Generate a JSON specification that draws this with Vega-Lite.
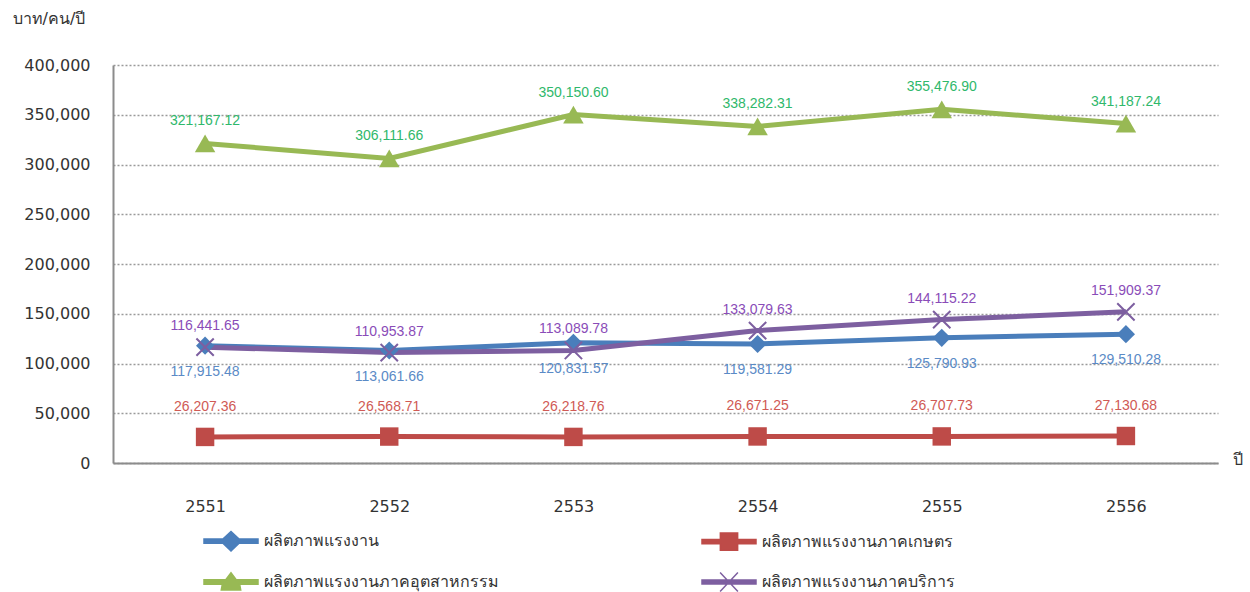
{
  "$schema": "https://vega.github.io/schema/vega-lite/v6.json",
  "width": 1105,
  "height": 398,
  "autosize": {"type": "none"},
  "padding": {"left": 113, "top": 65, "right": 32, "bottom": 129},
  "background": "white",
  "config": {
    "view": {"stroke": null},
    "font": "DejaVu Sans"
  },
  "data": {
    "values": [
      {"year": "2551", "series": "ผลิตภาพแรงงาน", "value": 117915.48},
      {"year": "2552", "series": "ผลิตภาพแรงงาน", "value": 113061.66},
      {"year": "2553", "series": "ผลิตภาพแรงงาน", "value": 120831.57},
      {"year": "2554", "series": "ผลิตภาพแรงงาน", "value": 119581.29},
      {"year": "2555", "series": "ผลิตภาพแรงงาน", "value": 125790.93},
      {"year": "2556", "series": "ผลิตภาพแรงงาน", "value": 129510.28},
      {"year": "2551", "series": "ผลิตภาพแรงงานภาคเกษตร", "value": 26207.36},
      {"year": "2552", "series": "ผลิตภาพแรงงานภาคเกษตร", "value": 26568.71},
      {"year": "2553", "series": "ผลิตภาพแรงงานภาคเกษตร", "value": 26218.76},
      {"year": "2554", "series": "ผลิตภาพแรงงานภาคเกษตร", "value": 26671.25},
      {"year": "2555", "series": "ผลิตภาพแรงงานภาคเกษตร", "value": 26707.73},
      {"year": "2556", "series": "ผลิตภาพแรงงานภาคเกษตร", "value": 27130.68},
      {"year": "2551", "series": "ผลิตภาพแรงงานภาคอุตสาหกรรม", "value": 321167.12},
      {"year": "2552", "series": "ผลิตภาพแรงงานภาคอุตสาหกรรม", "value": 306111.66},
      {"year": "2553", "series": "ผลิตภาพแรงงานภาคอุตสาหกรรม", "value": 350150.60},
      {"year": "2554", "series": "ผลิตภาพแรงงานภาคอุตสาหกรรม", "value": 338282.31},
      {"year": "2555", "series": "ผลิตภาพแรงงานภาคอุตสาหกรรม", "value": 355476.90},
      {"year": "2556", "series": "ผลิตภาพแรงงานภาคอุตสาหกรรม", "value": 341187.24},
      {"year": "2551", "series": "ผลิตภาพแรงงานภาคบริการ", "value": 116441.65},
      {"year": "2552", "series": "ผลิตภาพแรงงานภาคบริการ", "value": 110953.87},
      {"year": "2553", "series": "ผลิตภาพแรงงานภาคบริการ", "value": 113089.78},
      {"year": "2554", "series": "ผลิตภาพแรงงานภาคบริการ", "value": 133079.63},
      {"year": "2555", "series": "ผลิตภาพแรงงานภาคบริการ", "value": 144115.22},
      {"year": "2556", "series": "ผลิตภาพแรงงานภาคบริการ", "value": 151909.37}
    ]
  },
  "encoding": {
    "x": {
      "field": "year",
      "type": "ordinal",
      "scale": {"type": "point", "padding": 0.5},
      "axis": {
        "title": "ปี",
        "titleX": 1124,
        "titleY": -4,
        "titleAlign": "center",
        "titleBaseline": "middle",
        "titleAnchor": null,
        "titleFontSize": 16,
        "titleFontWeight": "normal",
        "titleColor": "#333333",
        "labelAngle": 0,
        "labelFontSize": 16,
        "labelColor": "#333333",
        "labelPadding": 35,
        "ticks": false,
        "domainColor": "#8c8c8c",
        "domainWidth": 2,
        "grid": false
      }
    },
    "y": {
      "field": "value",
      "type": "quantitative",
      "scale": {"domain": [0, 400000]},
      "axis": {
        "values": [0, 50000, 100000, 150000, 200000, 250000, 300000, 350000, 400000],
        "format": ",d",
        "title": "บาท/คน/ปี",
        "titleAngle": 0,
        "titleX": -101,
        "titleY": -47,
        "titleAlign": "left",
        "titleBaseline": "middle",
        "titleFontSize": 16,
        "titleFontWeight": "normal",
        "titleColor": "#333333",
        "labelFontSize": 16,
        "labelColor": "#333333",
        "labelPadding": 23,
        "ticks": false,
        "domainColor": "#8c8c8c",
        "domainWidth": 2,
        "grid": true,
        "gridColor": "#9a9a9a",
        "gridDash": [2, 2],
        "gridWidth": 1.5
      }
    }
  },
  "layer": [
    {
      "mark": {"type": "line", "strokeWidth": 5},
      "encoding": {
        "color": {
          "field": "series",
          "type": "nominal",
          "scale": {
            "domain": ["ผลิตภาพแรงงาน", "ผลิตภาพแรงงานภาคเกษตร", "ผลิตภาพแรงงานภาคอุตสาหกรรม", "ผลิตภาพแรงงานภาคบริการ"],
            "range": ["#4a7ebb", "#be4b48", "#98b954", "#7d5fa0"]
          },
          "legend": {
            "orient": "none",
            "direction": "horizontal",
            "legendX": 90,
            "legendY": 448,
            "columns": 2,
            "title": null,
            "symbolSize": 2916,
            "symbolStrokeWidth": 1.5,
            "labelFontSize": 16,
            "labelColor": "#333333",
            "labelOffset": 5,
            "labelLimit": 400,
            "columnPadding": 200,
            "rowPadding": -20,
            "padding": 0,
            "encode": {
              "symbols": {
                "update": {
                  "shape": {"signal": "datum.value === 'ผลิตภาพแรงงาน' ? 'M-1,-0.08H-0.3L0,-0.36L0.3,-0.08H1V0.08H0.3L0,0.36L-0.3,0.08H-1Z' : datum.value === 'ผลิตภาพแรงงานภาคเกษตร' ? 'M-1,-0.08H-0.32V-0.32H0.32V-0.08H1V0.08H0.32V0.32H-0.32V0.08H-1Z' : datum.value === 'ผลิตภาพแรงงานภาคอุตสาหกรรม' ? 'M-1,-0.08H-0.2L0,-0.34L0.2,-0.08H1V0.08H0.32L0.36,0.3H-0.36L-0.32,0.08H-1Z' : 'M-1,-0.07H1V0.07H-1Z M-0.33,-0.35L0.33,0.35M-0.33,0.35L0.33,-0.35'"},
                  "fill": {"scale": "color", "field": "value"},
                  "stroke": {"scale": "color", "field": "value"},
                  "strokeWidth": {"value": 1.5},
                  "fillOpacity": {"value": 1},
                  "opacity": {"value": 1}
                }
              }
            }
          }
        }
      }
    },
    {
      "transform": [{"filter": "datum.series === 'ผลิตภาพแรงงาน'"}],
      "mark": {"type": "point", "shape": "diamond", "filled": true, "opacity": 1, "size": 330, "color": "#4a7ebb"}
    },
    {
      "transform": [{"filter": "datum.series === 'ผลิตภาพแรงงานภาคเกษตร'"}],
      "mark": {"type": "point", "shape": "square", "filled": true, "opacity": 1, "size": 340, "color": "#be4b48"}
    },
    {
      "transform": [{"filter": "datum.series === 'ผลิตภาพแรงงานภาคอุตสาหกรรม'"}],
      "mark": {"type": "point", "shape": "triangle-up", "filled": true, "opacity": 1, "size": 420, "color": "#98b954"}
    },
    {
      "transform": [{"filter": "datum.series === 'ผลิตภาพแรงงานภาคบริการ'"}],
      "mark": {"type": "point", "shape": "M-1,-1L1,1M-1,1L1,-1", "filled": false, "opacity": 1, "size": 300, "strokeWidth": 2, "color": "#7d5fa0"}
    },
    {
      "transform": [{"filter": "datum.series === 'ผลิตภาพแรงงาน'"}],
      "mark": {"type": "text", "dy": 26, "fontSize": 14, "font": "Liberation Sans", "color": "#5a8ac6"},
      "encoding": {"text": {"field": "value", "type": "quantitative", "format": ",.2f"}}
    },
    {
      "transform": [{"filter": "datum.series === 'ผลิตภาพแรงงานภาคเกษตร'"}],
      "mark": {"type": "text", "dy": -30, "fontSize": 14, "font": "Liberation Sans", "color": "#d05a55"},
      "encoding": {"text": {"field": "value", "type": "quantitative", "format": ",.2f"}}
    },
    {
      "transform": [{"filter": "datum.series === 'ผลิตภาพแรงงานภาคอุตสาหกรรม'"}],
      "mark": {"type": "text", "dy": -22, "fontSize": 14, "font": "Liberation Sans", "color": "#2fb86b"},
      "encoding": {"text": {"field": "value", "type": "quantitative", "format": ",.2f"}}
    },
    {
      "transform": [{"filter": "datum.series === 'ผลิตภาพแรงงานภาคบริการ'"}],
      "mark": {"type": "text", "dy": -21, "fontSize": 14, "font": "Liberation Sans", "color": "#8a4cb8"},
      "encoding": {"text": {"field": "value", "type": "quantitative", "format": ",.2f"}}
    }
  ]
}
